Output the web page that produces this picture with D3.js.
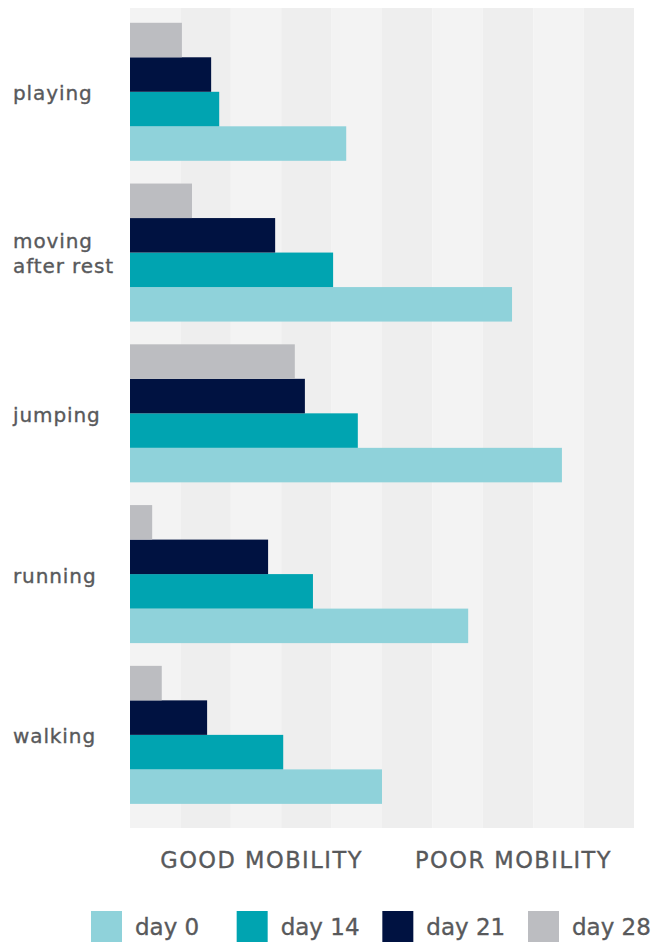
<!DOCTYPE html>
<html>
<head>
<meta charset="utf-8">
<script src="https://cdn.jsdelivr.net/npm/d3@7"></script>
<style>
  body { margin: 0; background: #fff; }
  text { font-family: "DejaVu Sans", sans-serif; fill: #58595b; stroke: #58595b; stroke-width: 0.35px; }
</style>
</head>
<body>
<svg width="659" height="942"></svg>
<script>
// categories, top to bottom
var categories = ["playing", "moving after rest", "jumping", "running", "walking"];
var categoryLines = [["playing"], ["moving", "after rest"], ["jumping"], ["running"], ["walking"]];

// series, in legend order
var series = ["day 0", "day 14", "day 21", "day 28"];
var colors = ["#8fd2da", "#00a4b1", "#001241", "#bcbdc1"];

// values per series (0 = good mobility, 10 = poor mobility)
var day0  = [4.29, 7.58, 8.57, 6.71, 5.00];
var day14 = [1.77, 4.03, 4.52, 3.63, 3.04];
var day21 = [1.61, 2.88, 3.47, 2.74, 1.53];
var day28 = [1.03, 1.23, 3.27, 0.44, 0.63];

var axisLabels = ["GOOD MOBILITY", "POOR MOBILITY"];
var axisLabelValues = [2.6, 7.6];

var values = [day0, day14, day21, day28];

var svg = d3.select("svg");
var plotLeft = 130, plotRight = 634, plotTop = 8, plotBottom = 828;

var xScale = d3.scaleLinear().domain([0, 10]).range([plotLeft, plotRight]);
var yScale = d3.scaleBand().domain(categories).range([plotTop, plotBottom])
  .paddingInner(0.1415).paddingOuter(0.121).align(0.38);
// bars stack top-down: day 28 first, day 0 last
var ySub = d3.scaleBand().domain(series.slice().reverse()).range([0, yScale.bandwidth()]);
var color = d3.scaleOrdinal().domain(series).range(colors);

// background stripes
svg.append("g")
  .selectAll("rect")
  .data(d3.range(0, 10))
  .enter()
  .append("rect")
  .attr("x", d => xScale(d))
  .attr("y", plotTop)
  .attr("width", xScale(1) - xScale(0))
  .attr("height", plotBottom - plotTop)
  .attr("fill", (d, i) => i % 2 == 0 ? "#f3f3f3" : "#eeeeee");

// bars
var table = [];
categories.forEach(function(c, ci) {
  series.forEach(function(s, si) {
    table.push({ cat: c, series: s, val: values[si][ci] });
  });
});

svg.append("g")
  .selectAll("rect")
  .data(table)
  .enter()
  .append("rect")
  .attr("x", xScale(0))
  .attr("y", d => yScale(d.cat) + ySub(d.series))
  .attr("width", d => xScale(d.val) - xScale(0))
  .attr("height", ySub.bandwidth())
  .attr("fill", d => color(d.series));

// category labels
var labels = svg.append("g")
  .selectAll("text")
  .data(categories)
  .enter()
  .append("text")
  .attr("x", 13)
  .attr("font-size", 20)
  .attr("letter-spacing", 0.9);

labels.each(function(c, i) {
  var lines = categoryLines[i];
  var mid = yScale(c) + yScale.bandwidth() / 2;
  var y0 = mid + 8.5 - (lines.length - 1) * 13.5;
  d3.select(this).selectAll("tspan")
    .data(lines)
    .enter()
    .append("tspan")
    .attr("x", 13)
    .attr("y", (d, j) => y0 + j * 25)
    .text(d => d);
});

// bottom axis labels
var xAxis = d3.axisBottom(xScale)
  .tickValues(axisLabelValues)
  .tickFormat((d, i) => axisLabels[i])
  .tickSize(0);

var ax = svg.append("g")
  .attr("transform", "translate(0," + plotBottom + ")")
  .call(xAxis);
ax.select(".domain").remove();
ax.selectAll("text")
  .attr("y", 40)
  .attr("dy", 0)
  .attr("font-size", 22.5)
  .attr("letter-spacing", 1.5)
  .style("font-family", "DejaVu Sans")
  .attr("fill", "#58595b");

// legend
var legendX = d3.scalePoint().domain(series).range([91, 528]);
var legend = svg.append("g")
  .selectAll("g")
  .data(series)
  .enter()
  .append("g")
  .attr("transform", d => "translate(" + legendX(d) + ",911)");

legend.append("rect")
  .attr("width", 31)
  .attr("height", 31)
  .attr("fill", d => color(d));

legend.append("text")
  .attr("x", 44)
  .attr("y", 24)
  .attr("font-size", 23)
  .text(d => d);
</script>
</body>
</html>
